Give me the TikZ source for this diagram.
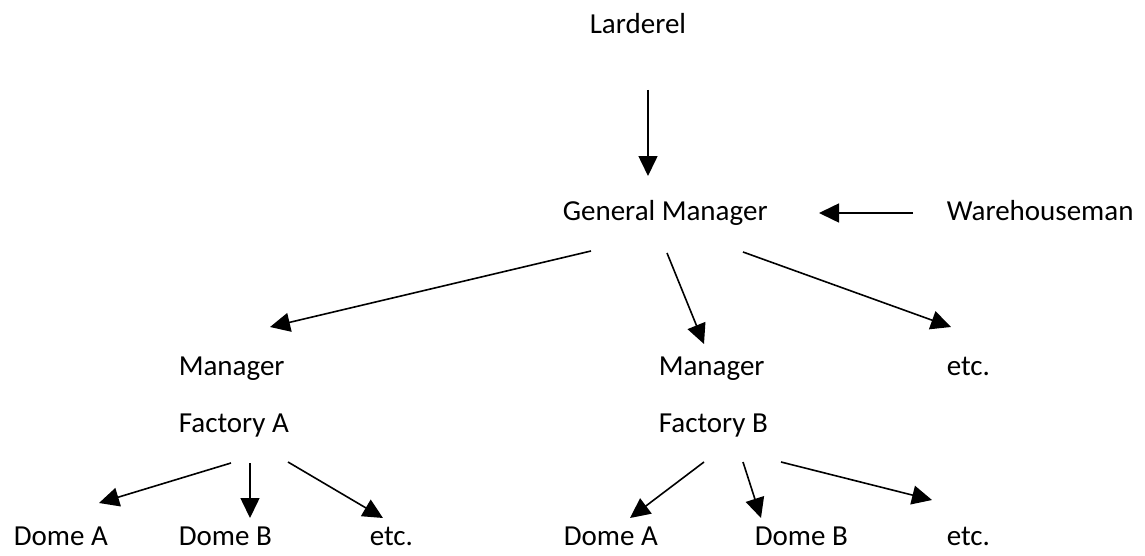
\documentclass[tikz,border=0pt]{standalone}
\usepackage{fontspec}
\setmainfont{Carlito}
\usetikzlibrary{arrows.meta,calc}
\begin{document}
\begin{tikzpicture}[x=.5pt, y=-.5pt, font=\fontsize{14.5}{17}\selectfont, line join=round,
	>={Triangle[length=10pt,width=9.5pt]}, line width=.8pt,
	lbl/.style={anchor=base west, inner sep=0pt}]
	\useasboundingbox (0,0) rectangle (1145,556);
	% top
	\node[lbl] (lard) at (589,34) {Larderel};
	\node[lbl] (gm) at (562,220) {General Manager};
	\node[lbl] (wh) at (946,220) {Warehouseman};
	% managers
	\node[lbl] (mga) at (178,375) {Manager};
	\node[lbl] (fca) at (178,432) {Factory A};
	\node[lbl] (mgb) at (658,375) {Manager};
	\node[lbl] (fcb) at (658,432) {Factory B};
	\node[lbl] (etc) at (946,375) {etc.};
	% domes
	\node[lbl] (daa) at (13,545) {Dome A};
	\node[lbl] (dab) at (178,545) {Dome B};
	\node[lbl] (dac) at (369,545) {etc.};
	\node[lbl] (dba) at (563,545) {Dome A};
	\node[lbl] (dbb) at (754,545) {Dome B};
	\node[lbl] (dbc) at (946,545) {etc.};
	% arrows
	\draw[->] ($(lard.base west)+(59,56)$) -- ($(gm.base west)+(86,-44)$);
	\draw[->] ($(wh.base west)+(-33,-7)$) -- ($(gm.base west)+(257,-7)$);
	\draw[->]
	($(gm.base west)+(29,31)$)--($(mga.base west)+(92,-48)$)
	;
	\draw[->] ($(gm.base west)+(105,33)$) -- ($(mgb.base west)+(46,-31)$);
	\draw[->] ($(gm.base west)+(181,32)$) -- ($(etc.base west)+(5,-48)$);
	\draw[->] ($(fca.base west)+(53,31)$) -- ($(daa.base west)+(86,-42)$);
	\draw[->] ($(fca.base west)+(72,31)$) -- ($(dab.base west)+(72,-27)$);
	\draw[->] ($(fca.base west)+(110,30)$) -- ($(dac.base west)+(14,-27)$);
	\draw[->] ($(fcb.base west)+(46,30)$) -- ($(dba.base west)+(67,-27)$);
	\draw[->] ($(fcb.base west)+(85,30)$) -- ($(dbb.base west)+(7,-27)$);
	\draw[->] ($(fcb.base west)+(123,30)$) -- ($(dbc.base west)+(-14,-45)$);
\end{tikzpicture}
\end{document}
